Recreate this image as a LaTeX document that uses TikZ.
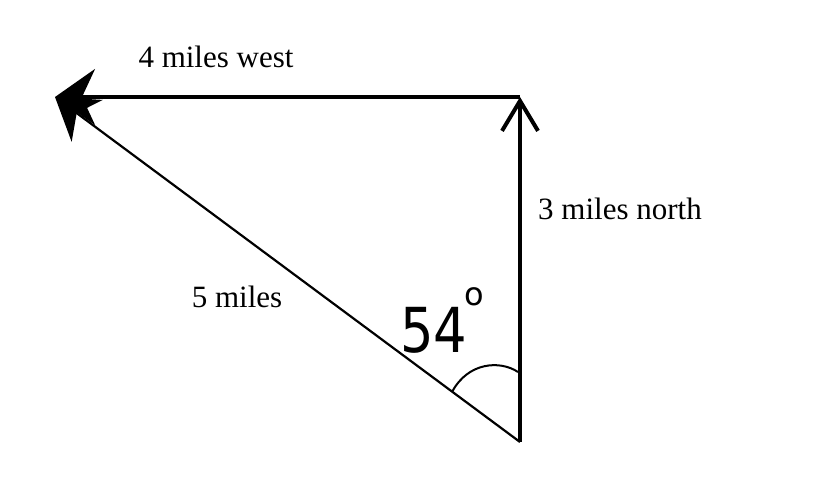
\documentclass[tikz,border=0pt]{standalone}
\usepackage{fontspec}
\setmainfont{Liberation Serif}
\newfontfamily\handfont{DejaVu Sans}
\usetikzlibrary{arrows.meta}
\tikzset{
    vec/.style = {line width=1.6pt, -{Straight Barb[length=15pt, width=18pt, line width=2pt]}},
    resultant/.style = {line width=1.1pt, -{Stealth[length=20pt, width=26pt]}},
    lbl/.style = {font=\fontsize{15.5}{18}\selectfont, inner sep=0pt}
}

\begin{document}
\begin{tikzpicture}[x=0.5pt, y=-0.5pt]
        \useasboundingbox (0, 0) rectangle (823, 498);
        \coordinate (S) at (520, 442);
        \coordinate (N) at (520, 97);
        \coordinate (W) at (55, 97);
        \path[draw, vec] (S) -- (N);
        \path[draw, line width=1.6pt, -{Stealth[length=20pt, width=28pt]}] (N) -- (W);
        \path[draw, resultant] (S) -- (W);
        \path[draw, line width=1pt] (452, 392) .. controls (468, 362) and (500, 360) .. (518, 372);
        \node[lbl] (west) at (216, 57) {4 miles west};
        \node[lbl] (north) at (620, 209) {3 miles north};
        \node[lbl] (res) at (237, 297) {5 miles};
        \node[font=\handfont\fontsize{31}{31}\selectfont, inner sep=0pt, xscale=0.85] (ang) at (434, 330) {54};
        \node[font=\handfont\fontsize{16}{16}\selectfont, inner sep=0pt] (deg) at (474, 297) {o};
    \end{tikzpicture}
\end{document}
